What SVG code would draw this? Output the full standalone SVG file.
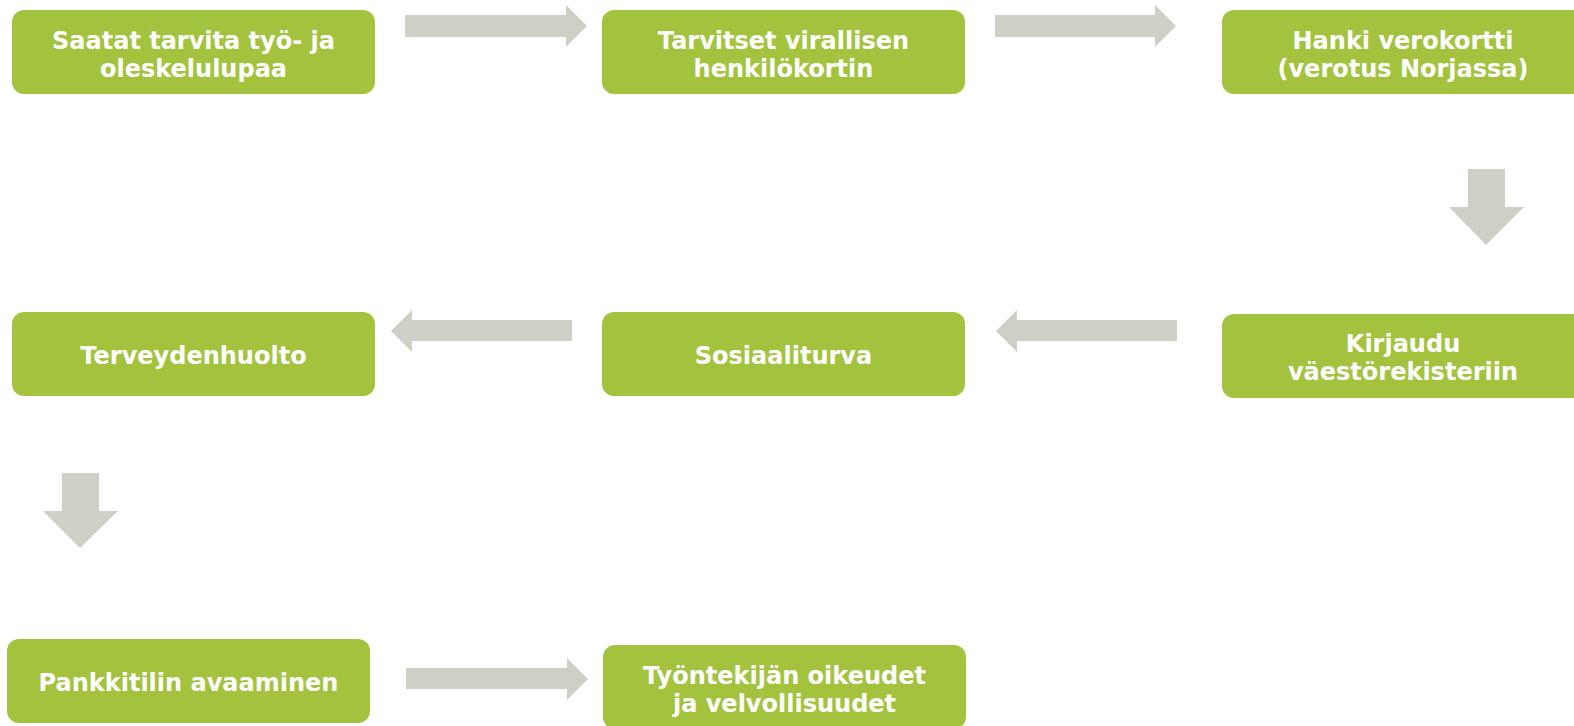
<svg xmlns="http://www.w3.org/2000/svg" width="1574" height="726" viewBox="0 0 1574 726">
<style>
.box{fill:#A3C33F;}
.lbl{font-family:"DejaVu Sans","Verdana",sans-serif;font-weight:bold;font-size:24px;fill:#FFFFFF;text-anchor:middle;}
.arr{fill:#CFCFC6;}
</style>
<rect width="1574" height="726" fill="#FFFFFF"/>
<g id="connectors">
<polygon class="arr" points="405,15 566,15 566,5 587,26 566,47 566,37 405,37"/>
<polygon class="arr" points="995,15 1155,15 1155,5 1176,26 1155,47 1155,37 995,37"/>
<polygon class="arr" points="1468,169 1505,169 1505,207 1524,207 1486,245 1449,207 1468,207"/>
<polygon class="arr" points="1177,320 1017,320 1017,310 996,331 1017,352 1017,341 1177,341"/>
<polygon class="arr" points="572,320 412,320 412,310 391,331 412,352 412,341 572,341"/>
<polygon class="arr" points="62,473 99,473 99,511 118,511 80,548 43,511 62,511"/>
<polygon class="arr" points="406,668 567,668 567,658 588,679 567,700 567,689 406,689"/>
</g>
<g id="n1"><rect class="box" x="12" y="10" width="363" height="84" rx="12"/><text class="lbl" x="193.5" y="49">Saatat tarvita työ- ja</text><text class="lbl" x="193.5" y="77">oleskelulupaa</text></g>
<g id="n2"><rect class="box" x="602" y="10" width="363" height="84" rx="12"/><text class="lbl" x="783.5" y="49">Tarvitset virallisen</text><text class="lbl" x="783.5" y="77">henkilökortin</text></g>
<g id="n3"><rect class="box" x="1222" y="10" width="363" height="84" rx="12"/><text class="lbl" x="1403" y="49">Hanki verokortti</text><text class="lbl" x="1403" y="77">(verotus Norjassa)</text></g>
<g id="n4"><rect class="box" x="1222" y="314" width="363" height="84" rx="12"/><text class="lbl" x="1403" y="352">Kirjaudu</text><text class="lbl" x="1403" y="380">väestörekisteriin</text></g>
<g id="n5"><rect class="box" x="602" y="312" width="363" height="84" rx="12"/><text class="lbl" x="783.5" y="364">Sosiaaliturva</text></g>
<g id="n6"><rect class="box" x="12" y="312" width="363" height="84" rx="12"/><text class="lbl" x="193.5" y="364">Terveydenhuolto</text></g>
<g id="n7"><rect class="box" x="7" y="639" width="363" height="84" rx="12"/><text class="lbl" x="188.5" y="691">Pankkitilin avaaminen</text></g>
<g id="n8"><rect class="box" x="603" y="645" width="363" height="84" rx="12"/><text class="lbl" x="784.5" y="684">Työntekijän oikeudet</text><text class="lbl" x="784.5" y="712">ja velvollisuudet</text></g>
</svg>
